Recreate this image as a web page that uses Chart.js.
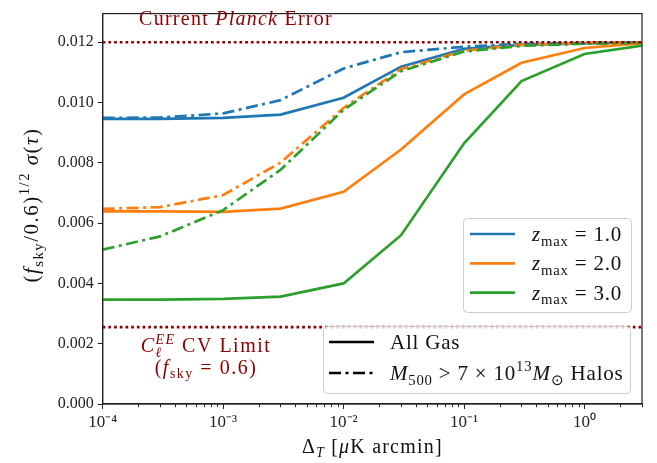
<!DOCTYPE html>
<html>
<head>
<meta charset="UTF-8">
<script src="https://cdn.jsdelivr.net/npm/chart.js@4.4.1/dist/chart.umd.min.js"></script>
<style>
  html, body { margin: 0; padding: 0; background: #fff; }
</style>
</head>
<body>
<canvas id="c" width="657" height="463"></canvas>
<script>
// noise levels (muK arcmin) and sigma(tau) curves
const noiseLevels = [1e-4, 3e-4, 1e-3, 3e-3, 1e-2, 3e-2, 1e-1, 3e-1, 1, 3];

const gasZ1 = [0.00946, 0.00946, 0.00949, 0.00960, 0.01016, 0.01119, 0.01178, 0.01191, 0.01196, 0.01200];
const gasZ2 = [0.00639, 0.00639, 0.00637, 0.00648, 0.00704, 0.00844, 0.01027, 0.01132, 0.01181, 0.01197];
const gasZ3 = [0.00346, 0.00346, 0.00349, 0.00356, 0.00400, 0.00560, 0.00865, 0.01071, 0.01161, 0.01189];

const halosZ1 = [0.00949, 0.00950, 0.00964, 0.01008, 0.01113, 0.01167, 0.01185, 0.01195, 0.01198, 0.01200];
const halosZ2 = [0.00647, 0.00653, 0.00693, 0.00801, 0.00982, 0.01111, 0.01172, 0.01191, 0.01198, 0.01200];
const halosZ3 = [0.00512, 0.00556, 0.00643, 0.00777, 0.00976, 0.01104, 0.01169, 0.01188, 0.01195, 0.01198];

const planckError = 0.0120;
const cvLimit = 0.00255;

const yTicks = [0, 0.002, 0.004, 0.006, 0.008, 0.010, 0.012];

const BLUE = '#1f77b4', ORANGE = '#ff7f0e', GREEN = '#2ca02c', DARKRED = '#8b0000';
const FAM = '"Liberation Serif", "Times New Roman", serif';
const DASHDOT = [12, 4.5, 3, 4.5];

function series(ys, color, dashed, order) {
  return {
    data: noiseLevels.map((x, i) => ({ x: x, y: ys[i] })),
    borderColor: color,
    borderWidth: 2.7,
    borderDash: dashed ? DASHDOT : [],
    pointRadius: 0,
    tension: 0,
    fill: false,
    order: order
  };
}

function refLine(v) {
  return {
    data: [{ x: noiseLevels[0], y: v }, { x: noiseLevels[noiseLevels.length - 1], y: v }],
    borderColor: DARKRED,
    borderWidth: 2.7,
    borderDash: [2.7, 3],
    pointRadius: 0,
    fill: false,
    order: 0
  };
}

// --- small rich text helper for sub/superscripts ---
function partFont(p, size) {
  const s = (p.sub || p.sup || p.stack) ? size * 0.7 : size;
  return (p.it ? 'italic ' : '') + s.toFixed(1) + 'px ' + FAM;
}
function measureParts(ctx, parts, size) {
  let w = 0;
  for (const p of parts) {
    ctx.font = partFont(p, size);
    if (p.stack) w += Math.max(ctx.measureText(p.top).width, ctx.measureText(p.bot).width);
    else w += ctx.measureText(p.t).width;
  }
  return w;
}
function drawParts(ctx, parts, x, y, size, align, spacing) {
  ctx.letterSpacing = (spacing || 0) + 'px';
  const w = measureParts(ctx, parts, size);
  let cx = align === 'center' ? x - w / 2 : (align === 'right' ? x - w : x);
  ctx.textAlign = 'left';
  ctx.textBaseline = 'alphabetic';
  for (const p of parts) {
    ctx.font = partFont(p, size);
    if (p.stack) {
      ctx.fillText(p.top, cx, y - size * 0.42);
      ctx.fillText(p.bot, cx, y + size * 0.25);
      cx += Math.max(ctx.measureText(p.top).width, ctx.measureText(p.bot).width);
    } else {
      const dy = p.sub ? size * 0.22 : (p.sup ? -size * 0.42 : 0);
      ctx.fillText(p.t, cx, y + dy);
      cx += ctx.measureText(p.t).width;
    }
  }
  ctx.letterSpacing = '0px';
}

const yTitle = [{ t: '(' }, { t: 'f', it: true }, { t: 'sky', sub: true }, { t: '/0.6)' },
  { t: '1/2', sup: true }, { t: ' ' }, { t: 'σ', it: true }, { t: '(' }, { t: 'τ', it: true }, { t: ')' }];
const xTitle = [{ t: 'Δ' }, { t: 'T', it: true, sub: true }, { t: ' [' }, { t: 'μ', it: true }, { t: 'K arcmin]' }];
const planckText = [{ t: 'Current ' }, { t: 'Planck', it: true }, { t: ' Error' }];
const cvText1 = [{ t: 'C', it: true }, { stack: true, top: 'EE', bot: 'ℓ', it: true }, { t: ' CV Limit' }];
const cvText2 = [{ t: '(' }, { t: 'f', it: true }, { t: 'sky', sub: true }, { t: ' = 0.6)' }];
const zLabels = ['1.0', '2.0', '3.0'];
const zColors = [BLUE, ORANGE, GREEN];

function legendBox(ctx, x, y, w, h) {
  ctx.save();
  ctx.beginPath();
  ctx.roundRect(x + 0.5, y + 0.5, w, h, 4);
  ctx.fillStyle = 'rgba(255,255,255,0.8)';
  ctx.fill();
  ctx.strokeStyle = '#cccccc';
  ctx.lineWidth = 1;
  ctx.stroke();
  ctx.restore();
}

const decorations = {
  id: 'decorations',
  afterDraw(chart) {
    const ctx = chart.ctx;
    const a = chart.chartArea;
    ctx.save();
    // frame (all four spines)
    ctx.strokeStyle = '#222';
    ctx.lineWidth = 1.2;
    ctx.strokeRect(a.left, a.top, a.right - a.left, a.bottom - a.top);

    // axis titles
    ctx.fillStyle = '#111';
    drawParts(ctx, xTitle, (a.left + a.right) / 2, 453, 20, 'center', 1.2);
    ctx.save();
    ctx.translate(38, 205);
    ctx.rotate(-Math.PI / 2);
    drawParts(ctx, yTitle, 0, 0, 21, 'center', 1.5);
    ctx.restore();

    // reference line annotations
    ctx.fillStyle = DARKRED;
    drawParts(ctx, planckText, 236, 25, 20, 'center', 1.25);
    drawParts(ctx, cvText1, 206, 352, 20, 'center', 1.5);
    drawParts(ctx, cvText2, 206, 374, 20, 'center', 1.5);

    // legend: redshift colours
    legendBox(ctx, 463, 218, 168, 94);
    zLabels.forEach((lab, i) => {
      const yy = 234 + i * 29.3;
      ctx.strokeStyle = zColors[i];
      ctx.lineWidth = 2.7;
      ctx.setLineDash([]);
      ctx.beginPath();
      ctx.moveTo(470, yy);
      ctx.lineTo(515, yy);
      ctx.stroke();
      ctx.fillStyle = '#111';
      drawParts(ctx, [{ t: 'z', it: true }, { t: 'max', sub: true }, { t: ' = ' + lab }], 532, yy + 7, 21, 'left', 0.8);
    });

    // legend: line styles
    legendBox(ctx, 323, 326, 307, 67);
    const styleRows = [
      { dash: [], parts: [{ t: 'All Gas' }] },
      { dash: DASHDOT, parts: [{ t: 'M', it: true }, { t: '500', sub: true }, { t: ' > 7 × 10' }, { t: '13', sup: true },
        { t: 'M', it: true }, { t: '⊙', sub: true }, { t: ' Halos' }] }
    ];
    styleRows.forEach((r, i) => {
      const yy = 342 + i * 31;
      ctx.strokeStyle = '#000';
      ctx.lineWidth = 2.7;
      ctx.setLineDash(r.dash);
      ctx.beginPath();
      ctx.moveTo(329, yy);
      ctx.lineTo(374, yy);
      ctx.stroke();
      ctx.setLineDash([]);
      ctx.fillStyle = '#111';
      drawParts(ctx, r.parts, 390, yy + 7, 21, 'left', 0.8);
    });
    ctx.restore();
  }
};

const SUP = { '-': '⁻', '0': '⁰', '1': '¹', '2': '²', '3': '³', '4': '⁴', '5': '⁵', '6': '⁶', '7': '⁷', '8': '⁸', '9': '⁹' };
function isDecade(v) {
  const e = Math.log10(v);
  return Math.abs(e - Math.round(e)) < 1e-6;
}

new Chart(document.getElementById('c'), {
  type: 'line',
  data: {
    datasets: [
      refLine(planckError),
      refLine(cvLimit),
      series(gasZ1, BLUE, false, 6),
      series(halosZ1, BLUE, true, 5),
      series(gasZ2, ORANGE, false, 4),
      series(halosZ2, ORANGE, true, 3),
      series(gasZ3, GREEN, false, 2),
      series(halosZ3, GREEN, true, 1)
    ]
  },
  options: {
    responsive: false,
    animation: false,
    devicePixelRatio: 1,
    layout: { padding: { top: 3, right: 15, bottom: 0, left: 0 } },
    plugins: { legend: { display: false }, tooltip: { enabled: false } },
    scales: {
      x: {
        type: 'logarithmic',
        position: 'bottom',
        min: noiseLevels[0],
        max: noiseLevels[noiseLevels.length - 1],
        afterBuildTicks(scale) {
          const t = [];
          for (let e = -4; e <= 0; e++) {
            for (let m = 1; m <= 9; m++) {
              const v = m * Math.pow(10, e);
              if (v <= scale.max * 1.0001) t.push({ value: v, major: m === 1 });
            }
          }
          scale.ticks = t;
        },
        afterFit(scale) { scale.height = 59; },
        grid: {
          drawOnChartArea: false,
          drawTicks: true,
          tickLength: 5,
          tickColor: '#222',
          tickWidth: 1,
          tickBorderDash: c => (c.tick && isDecade(c.tick.value)) ? [] : [3, 20]
        },
        border: { display: true, color: '#222', width: 1.2 },
        ticks: {
          autoSkip: false,
          maxRotation: 0,
          padding: 3,
          color: '#222',
          font: { family: FAM, size: 17 },
          callback: v => {
            if (!isDecade(v)) return '';
            const e = String(Math.round(Math.log10(v)));
            return '10' + e.split('').map(ch => SUP[ch]).join('');
          }
        }
      },
      y: {
        type: 'linear',
        min: 0,
        max: 0.01295,
        afterBuildTicks(scale) { scale.ticks = yTicks.map(v => ({ value: v })); },
        afterFit(scale) { scale.width = 102.7; },
        grid: { drawOnChartArea: false, drawTicks: true, tickLength: 5, tickColor: '#222' },
        border: { display: true, color: '#222', width: 1.2 },
        ticks: {
          padding: 4,
          color: '#222',
          font: { family: FAM, size: 16 },
          callback: v => v.toFixed(3)
        }
      }
    }
  },
  plugins: [decorations]
});
</script>
</body>
</html>
